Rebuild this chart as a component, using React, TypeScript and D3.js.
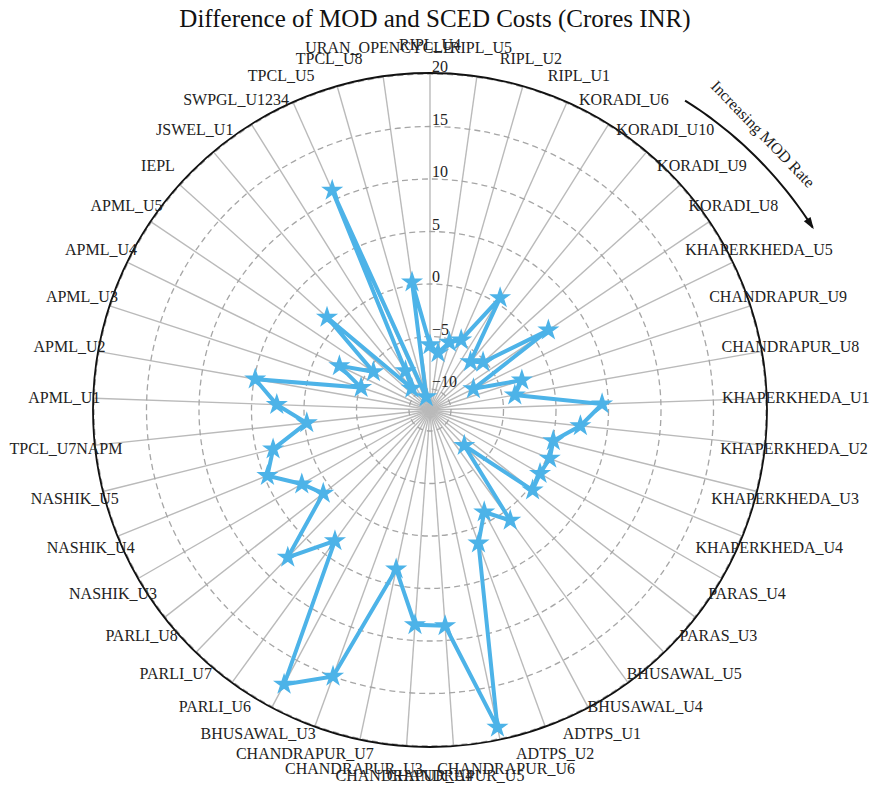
import React from "react";
import * as d3 from "d3";

const units = [
  "RIPL_U4", "RIPL_U5", "RIPL_U2", "RIPL_U1", "KORADI_U6", "KORADI_U10", "KORADI_U9", "KORADI_U8",
  "KHAPERKHEDA_U5", "CHANDRAPUR_U9", "CHANDRAPUR_U8", "KHAPERKHEDA_U1", "KHAPERKHEDA_U2",
  "KHAPERKHEDA_U3", "KHAPERKHEDA_U4", "PARAS_U4", "PARAS_U3", "BHUSAWAL_U5", "BHUSAWAL_U4",
  "ADTPS_U1", "ADTPS_U2", "CHANDRAPUR_U6", "CHANDRAPUR_U5", "CHANDRAPUR_U4", "CHANDRAPUR_U3",
  "CHANDRAPUR_U7", "BHUSAWAL_U3", "PARLI_U6", "PARLI_U7", "PARLI_U8", "NASHIK_U3", "NASHIK_U4",
  "NASHIK_U5", "TPCL_U7NAPM", "APML_U1", "APML_U2", "APML_U3", "APML_U4", "APML_U5", "IEPL",
  "JSWEL_U1", "SWPGL_U1234", "TPCL_U5", "TPCL_U8", "URAN_OPENCYCLE",
];

const costDiff = [
  -5.8, -6.5, -5.3, -4.7, 0.6, -6.0, -5.2, 1.6,
  -7.4, -2.8, -3.8, 4.4, 2.4,
  0.1, 0.3, 0.1, 0.4, -7.3, 1.0,
  -1.0, 1.5, 18.9, 8.6, 8.5, 3.5,
  15.0, 17.6, 3.4, 7.5, 0.9, 2.1, 4.7,
  3.4, -0.2, 2.6, 4.9, -5.1, -2.4, -5.5, 1.2,
  -9.3, -7.6, 10.9, -10.7, 0.3,
];

const radialTicks = [-10, -5, 0, 5, 10, 15, 20];
const radialDomain = [-12, 20];

const W = 869;
const H = 785;
const cx = 430;
const cy = 410;
const R = 336;
const labelR = 366;
const blue = "#4DB3E8";
const serif = "'Liberation Serif', 'Times New Roman', serif";

export default function App() {
  const n = units.length;
  const ang = d3.scaleLinear().domain([0, n]).range([0, 2 * Math.PI]);
  const rad = d3.scaleLinear().domain(radialDomain).range([0, R]);
  const pt = (a: number, r: number): [number, number] => [cx + r * Math.sin(a), cy - r * Math.cos(a)];

  const line = d3
    .lineRadial<number>()
    .angle((_, i) => ang(i))
    .radius((d) => rad(d))
    .curve(d3.curveLinearClosed);

  const star = d3.symbol().type(d3.symbolStar).size(95)() as string;

  const fmt = (v: number) => (v < 0 ? "\u2212" + Math.abs(v) : String(v));

  // annotation arrow (outside the circle)
  const a0 = (39.5 * Math.PI) / 180;
  const a1 = (64.5 * Math.PI) / 180;
  const arcPts: [number, number][] = d3.range(0, 1.0001, 0.05).map((t) => {
    const a = a0 + (a1 - a0) * t;
    const r = 401 + 23 * t;
    return pt(a, r);
  });
  const arrowPath = d3.line().curve(d3.curveCatmullRom)(arcPts) as string;
  const end = arcPts[arcPts.length - 1];
  const prev = arcPts[arcPts.length - 2];
  const dirA = Math.atan2(end[1] - prev[1], end[0] - prev[0]);
  const ah = 10;
  const aw = 4;
  const head = [
    [end[0] + Math.cos(dirA) * 2, end[1] + Math.sin(dirA) * 2],
    [end[0] - Math.cos(dirA) * ah + Math.sin(dirA) * aw, end[1] - Math.sin(dirA) * ah - Math.cos(dirA) * aw],
    [end[0] - Math.cos(dirA) * ah - Math.sin(dirA) * aw, end[1] - Math.sin(dirA) * ah + Math.cos(dirA) * aw],
  ];

  return (
    <svg
      width={W}
      height={H}
      style={{ position: "absolute", left: 0, top: 0, background: "#fff" }}
      fontFamily={serif}
    >
      <text x={435} y={27} textAnchor="middle" fontSize={25} fill="#111">
        Difference of MOD and SCED Costs (Crores INR)
      </text>

      {/* spokes */}
      {units.map((_, i) => {
        const [x, y] = pt(ang(i), R);
        return <line key={"s" + i} x1={cx} y1={cy} x2={x} y2={y} stroke="#BABABA" strokeWidth={1.4} />;
      })}

      {/* dashed circles */}
      {radialTicks.map((t) => (
        <circle
          key={"c" + t}
          cx={cx}
          cy={cy}
          r={rad(t)}
          fill="none"
          stroke="#A6A6A6"
          strokeWidth={1.3}
          strokeDasharray="6,4"
        />
      ))}
      <circle cx={cx} cy={cy} r={rad(20) + 1} fill="none" stroke="#111" strokeWidth={1.8} />

      {/* radial tick labels */}
      {radialTicks.map((t) => (
        <text key={"t" + t} x={cx + 2} y={cy - rad(t) - 2} fontSize={16} fill="#222">
          {fmt(t)}
        </text>
      ))}

      {/* theta labels */}
      {units.map((u, i) => {
        const [x, y] = pt(ang(i), labelR);
        return (
          <text key={"l" + i} x={x} y={y} textAnchor="middle" dominantBaseline="central" fontSize={16} fill="#222">
            {u}
          </text>
        );
      })}

      {/* data */}
      <path d={line(costDiff) as string} transform={`translate(${cx},${cy})`} fill="none" stroke={blue} strokeWidth={4} strokeLinejoin="miter" />
      {costDiff.map((v, i) => {
        const [x, y] = pt(ang(i), rad(v));
        return <path key={"m" + i} d={star} transform={`translate(${x},${y})`} fill={blue} stroke={blue} strokeWidth={1.5} />;
      })}

      {/* annotation */}
      <path d={arrowPath} fill="none" stroke="#111" strokeWidth={2} />
      <polygon points={head.map((p) => p.join(",")).join(" ")} fill="#111" />
      <text
        x={763}
        y={134}
        fontSize={16}
        fill="#222"
        textAnchor="middle"
        dominantBaseline="central"
        transform="rotate(46, 763, 134)"
      >
        Increasing MOD Rate
      </text>
    </svg>
  );
}
